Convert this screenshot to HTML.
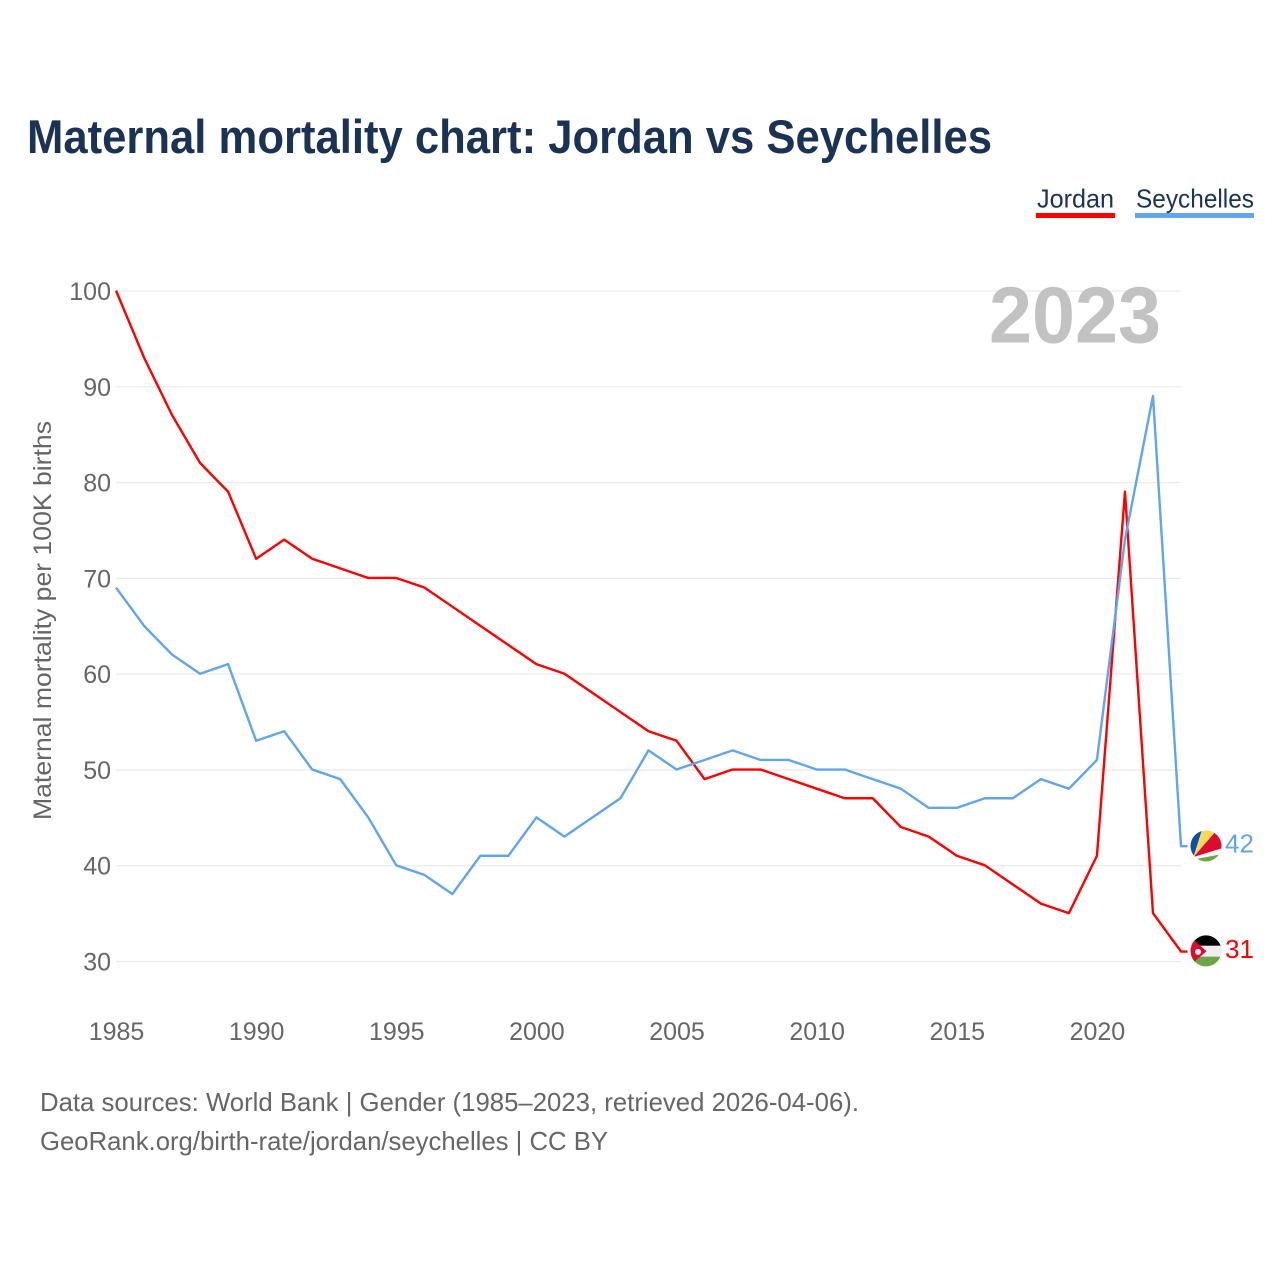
<!DOCTYPE html>
<html lang="en">
<head>
<meta charset="utf-8">
<title>Maternal mortality chart: Jordan vs Seychelles</title>
<style>
html,body{margin:0;padding:0;background:#fff;width:1280px;height:1280px;overflow:hidden}
svg{display:block}
text{font-family:"Liberation Sans",sans-serif}
</style>
</head>
<body>
<svg id="chart" width="1280" height="1280" viewBox="0 0 1280 1280" xmlns="http://www.w3.org/2000/svg">
  <defs>
    <clipPath id="flag-clip"><circle cx="0" cy="0" r="15.5"></circle></clipPath>
  </defs>
  <rect width="1280" height="1280" fill="#fff"></rect>
  <text x="27" y="153" font-size="47" font-weight="700" fill="#1a3355" textLength="965" lengthAdjust="spacingAndGlyphs">Maternal mortality chart: Jordan vs Seychelles</text>

  <g>
    <g>
      <text x="1037" y="207.5" font-size="26" fill="#1a3355" textLength="77" lengthAdjust="spacingAndGlyphs">Jordan</text>
      <rect x="1036" y="213" width="79" height="5" fill="#ff0000"></rect>
    </g>
    <g>
      <text x="1136" y="207.5" font-size="26" fill="#1a3355" textLength="118" lengthAdjust="spacingAndGlyphs">Seychelles</text>
      <rect x="1135" y="213" width="119" height="5" fill="#60a5ee"></rect>
    </g>
  </g>

  <g id="grid"></g>
  <g id="y-labels"></g>
  <g id="x-labels"></g>

  <text transform="translate(51,820) rotate(-90)" font-size="25" fill="#666666" textLength="399" lengthAdjust="spacingAndGlyphs">Maternal mortality per 100K births</text>

  <text x="989" y="342.5" font-size="80" font-weight="700" fill="#c2c2c2" textLength="172" lengthAdjust="spacingAndGlyphs">2023</text>

  <g id="series"></g>

  <g id="flag-seychelles">
    <g clip-path="url(#flag-clip)">
      <rect x="-16" y="-16" width="32" height="32" fill="#f4f4f4"></rect>
      <polygon points="-12.5,11 -4,-16 -20,-16 -20,11" fill="#0a4fa8"></polygon>
      <polygon points="-12.5,11 -4,-16 11,-16" fill="#fcd856"></polygon>
      <polygon points="-12.5,11 11,-16 20,-16 20,1" fill="#d80d2f"></polygon>
      <polygon points="-12.5,13.5 20,7.5 20,20 -12.5,20" fill="#6da544"></polygon>
    </g>
  </g>
  <g id="flag-jordan">
    <g clip-path="url(#flag-clip)">
      <rect x="-16" y="-16" width="32" height="11" fill="#000000"></rect>
      <rect x="-16" y="-5.2" width="32" height="11" fill="#eeeeee"></rect>
      <rect x="-16" y="5.7" width="32" height="11" fill="#6da544"></rect>
      <polygon points="-20,-18 0.5,0.3 -20,18" fill="#d80d2f"></polygon>
      <circle cx="-8" cy="1" r="3" fill="#eeeeee"></circle>
    </g>
  </g>

  <g id="end-labels"></g>

  <g>
    <text x="40" y="1111" font-size="26" fill="#666666" textLength="819" lengthAdjust="spacingAndGlyphs">Data sources: World Bank | Gender (1985–2023, retrieved 2026-04-06).</text>
    <text x="40" y="1150" font-size="26" fill="#666666" textLength="568" lengthAdjust="spacingAndGlyphs">GeoRank.org/birth-rate/jordan/seychelles | CC BY</text>
  </g>
</svg>

<script>
const years = [1985,1986,1987,1988,1989,1990,1991,1992,1993,1994,1995,1996,1997,1998,1999,2000,2001,2002,2003,2004,2005,2006,2007,2008,2009,2010,2011,2012,2013,2014,2015,2016,2017,2018,2019,2020,2021,2022,2023];
const jordanValues = [100,93,87,82,79,72,74,72,71,70,70,69,67,65,63,61,60,58,56,54,53,49,50,50,49,48,47,47,44,43,41,40,38,36,35,41,79,35,31];
const seychellesValues = [69,65,62,60,61,53,54,50,49,45,40,39,37,41,41,45,43,45,47,52,50,51,52,51,51,50,50,49,48,46,46,47,47,49,48,51,74,89,42];
const yTickLabels = [30,40,50,60,70,80,90,100];
const xTickLabels = [1985,1990,1995,2000,2005,2010,2015,2020];

const NS = 'http://www.w3.org/2000/svg';
const x = function (year) { return 116 + (year - 1985) * (1181 - 116) / (2023 - 1985); };
const y = function (value) { return 291 + (100 - value) * (961.5 - 291) / 70; };

const grid = document.getElementById('grid');
const yLabels = document.getElementById('y-labels');
const xLabels = document.getElementById('x-labels');
const series = document.getElementById('series');
const endLabels = document.getElementById('end-labels');

yTickLabels.forEach(function (tick) {
  const line = document.createElementNS(NS, 'line');
  
  
  line.setAttribute('x1', x(1985));
  line.setAttribute('x2', x(2023));
  line.setAttribute('y1', y(tick));
  line.setAttribute('y2', y(tick));
  line.setAttribute('stroke', '#ebebeb');
  line.setAttribute('stroke-width', '1.3');
  grid.appendChild(line);

  const label = document.createElementNS(NS, 'text');
  
  
  label.setAttribute('x', 111);
  label.setAttribute('y', y(tick) + 9);
  label.setAttribute('text-anchor', 'end');
  label.setAttribute('font-size', '25');
  label.setAttribute('fill', '#666666');
  label.textContent = tick;
  yLabels.appendChild(label);
});

xTickLabels.forEach(function (tick) {
  const label = document.createElementNS(NS, 'text');
  
  
  label.setAttribute('x', x(tick) + 0.5);
  label.setAttribute('y', 1040);
  label.setAttribute('text-anchor', 'middle');
  label.setAttribute('font-size', '25');
  label.setAttribute('fill', '#666666');
  label.textContent = tick;
  xLabels.appendChild(label);
});

function linePoints(values) {
  const pts = values.map(function (v, i) { return x(years[i]).toFixed(2) + ',' + (y(v) - 0.4).toFixed(2); });
  pts.push('1187.5,' + (y(values[values.length - 1]) - 0.4).toFixed(2));
  return pts.join(' ');
}

const jordanLine = document.createElementNS(NS, 'polyline');


jordanLine.setAttribute('points', linePoints(jordanValues));
jordanLine.setAttribute('fill', 'none');
jordanLine.setAttribute('stroke', '#ff0000');
jordanLine.setAttribute('stroke-width', '2.4');
jordanLine.setAttribute('stroke-linejoin', 'round');
series.appendChild(jordanLine);

const seychellesLine = document.createElementNS(NS, 'polyline');


seychellesLine.setAttribute('points', linePoints(seychellesValues));
seychellesLine.setAttribute('fill', 'none');
seychellesLine.setAttribute('stroke', '#60a5ee');
seychellesLine.setAttribute('stroke-width', '2.4');
seychellesLine.setAttribute('stroke-linejoin', 'round');
series.appendChild(seychellesLine);

const lastSeychelles = seychellesValues[seychellesValues.length - 1];
const lastJordan = jordanValues[jordanValues.length - 1];

document.getElementById('flag-seychelles').setAttribute('transform', 'translate(1206,' + (y(lastSeychelles) - 0.6) + ')');
document.getElementById('flag-jordan').setAttribute('transform', 'translate(1206,' + (y(lastJordan) - 1) + ')');

const seychellesEnd = document.createElementNS(NS, 'text');


seychellesEnd.setAttribute('x', 1225);
seychellesEnd.setAttribute('y', y(lastSeychelles) + 6);
seychellesEnd.setAttribute('font-size', '26');
seychellesEnd.setAttribute('fill', '#60a5ee');
seychellesEnd.textContent = lastSeychelles;
endLabels.appendChild(seychellesEnd);

const jordanEnd = document.createElementNS(NS, 'text');


jordanEnd.setAttribute('x', 1225);
jordanEnd.setAttribute('y', y(lastJordan) + 6);
jordanEnd.setAttribute('font-size', '26');
jordanEnd.setAttribute('fill', '#ff0000');
jordanEnd.textContent = lastJordan;
endLabels.appendChild(jordanEnd);
</script>
</body>
</html>
